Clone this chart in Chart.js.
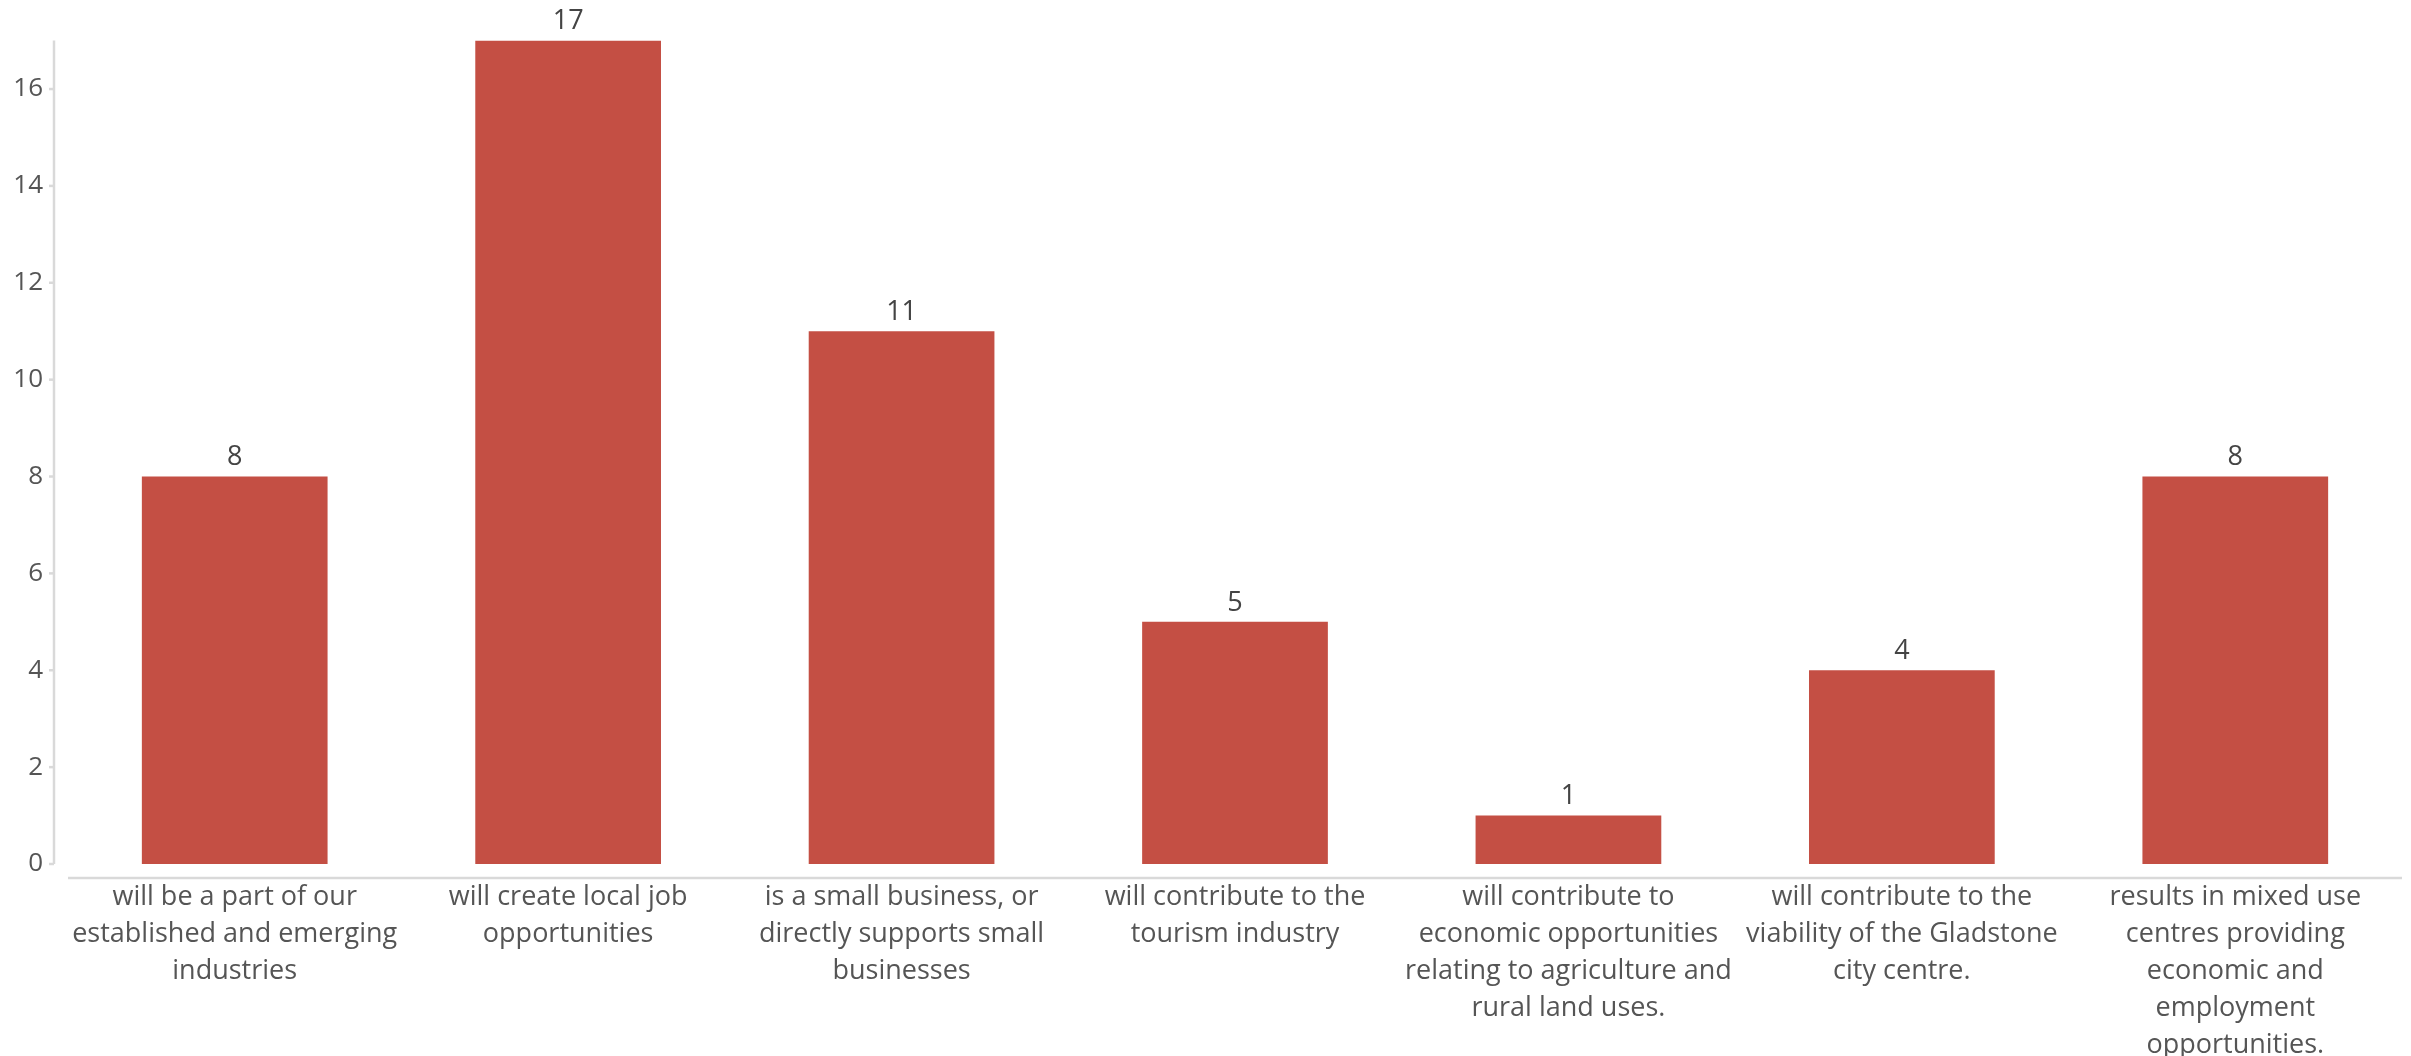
<!DOCTYPE html>
<html>
<head>
<meta charset="utf-8">
<script src="https://cdn.jsdelivr.net/npm/chart.js@4"></script>
<style>
  html, body { margin: 0; padding: 0; background: #fff; }
  #wrap { width: 2411px; height: 1056px; }
</style>
</head>
<body>
<div id="wrap"><canvas id="responsesChart" width="2411" height="1056"></canvas></div>
<script>
const categories = [
  ["will be a part of our", "established and emerging", "industries"],
  ["will create local job", "opportunities"],
  ["is a small business, or", "directly supports small", "businesses"],
  ["will contribute to the", "tourism industry"],
  ["will contribute to", "economic opportunities", "relating to agriculture and", "rural land uses."],
  ["will contribute to the", "viability of the Gladstone", "city centre."],
  ["results in mixed use", "centres providing", "economic and", "employment", "opportunities."]
];
const counts = [8, 17, 11, 5, 1, 4, 8];
const yTicks = [0, 2, 4, 6, 8, 10, 12, 14, 16];

const barColor = "#c44f44";
const axisColor = "#d9d9d9";
const textColor = "#555";
const fontFamily = "'Open Sans', sans-serif";

// plotly-style axes: both lines sit a little away from the plot area
const axisLines = {
  id: "axisLines",
  afterDraw(chart) {
    const ctx = chart.ctx;
    const area = chart.chartArea;
    const y = chart.scales.y;
    ctx.save();
    ctx.strokeStyle = axisColor;
    ctx.lineWidth = 2.5;
    const ax = area.left - 14;
    ctx.beginPath();
    ctx.moveTo(ax, y.getPixelForValue(y.max));
    ctx.lineTo(ax, y.getPixelForValue(0));
    ctx.stroke();
    yTicks.forEach((v) => {
      const py = y.getPixelForValue(v);
      ctx.beginPath();
      ctx.moveTo(ax - 5, py);
      ctx.lineTo(ax, py);
      ctx.stroke();
    });
    const bx = area.bottom + 14;
    ctx.beginPath();
    ctx.moveTo(area.left, bx);
    ctx.lineTo(area.right, bx);
    ctx.stroke();
    ctx.restore();
  },
};

// value printed above each bar
const barValues = {
  id: "barValues",
  afterDatasetsDraw(chart) {
    const ctx = chart.ctx;
    const meta = chart.getDatasetMeta(0);
    ctx.save();
    ctx.fillStyle = "#444";
    ctx.font = "27px " + fontFamily;
    ctx.textAlign = "center";
    ctx.textBaseline = "middle";
    meta.data.forEach((bar, i) => {
      ctx.fillText(String(counts[i]), bar.x, bar.y - 19);
    });
    ctx.restore();
  },
};

new Chart(document.getElementById("responsesChart").getContext("2d"), {
  type: "bar",
  data: {
    labels: categories,
    datasets: [
      {
        data: counts,
        backgroundColor: barColor,
        borderWidth: 0,
        barPercentage: 0.557,
        categoryPercentage: 1,
      },
    ],
  },
  options: {
    responsive: false,
    animation: false,
    layout: { padding: { top: 37, right: 9, left: 0, bottom: 0 } },
    plugins: {
      legend: { display: false },
      tooltip: { enabled: false },
    },
    scales: {
      x: {
        border: { display: false },
        grid: { display: false, drawTicks: false },
        ticks: {
          color: textColor,
          padding: 15,
          maxRotation: 0,
          autoSkip: false,
          font: { family: fontFamily, size: 27, lineHeight: 1.37 },
        },
        afterFit(scale) {
          scale.height = 192;
        },
      },
      y: {
        min: 0,
        max: 17,
        border: { display: false },
        grid: { display: false, drawTicks: false },
        ticks: {
          stepSize: 2,
          color: textColor,
          padding: 25,
          font: { family: fontFamily, size: 26 },
        },
        afterBuildTicks(scale) {
          scale.ticks = yTicks.map((v) => ({ value: v }));
        },
        afterFit(scale) {
          scale.width = 68;
        },
      },
    },
  },
  plugins: [axisLines, barValues],
});
</script>
</body>
</html>
